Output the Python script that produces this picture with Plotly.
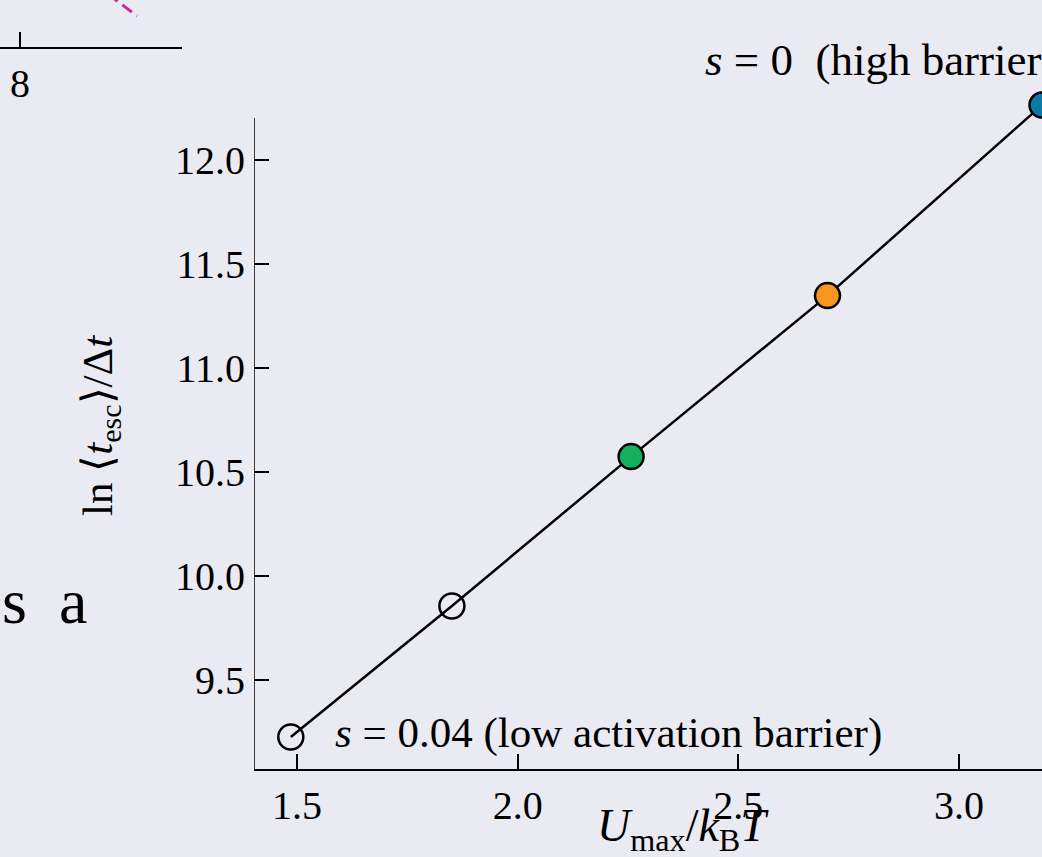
import plotly.graph_objects as go

# Escape-time data: mean escape time vs barrier height
u_max = [1.486, 1.851, 2.257, 2.702, 3.188]
ln_t_esc = [9.226, 9.856, 10.574, 11.348, 12.264]
marker_fill = ["rgba(0,0,0,0)", "rgba(0,0,0,0)", "#12B05F", "#F7951F", "#0B7AA5"]

x_ticks = [1.5, 2.0, 2.5, 3.0]
x_tick_text = ["1.5", "2.0", "2.5", "3.0"]
y_ticks = [9.5, 10.0, 10.5, 11.0, 11.5, 12.0]
y_tick_text = ["9.5", "10.0", "10.5", "11.0", "11.5", "12.0"]

# Neighbouring panel (only its lower edge is in view)
side_x = [8.88, 9.17]
side_y = [5.3, 3.1]
side_ticks = [8]

W, H = 1042, 857
BG = "#EAEAF2"
FONT = "Liberation Serif"
TICK_SIZE = 40
TEXT_SIZE = 43


def px(x):
    return x / W


def py(y):
    return 1 - y / H


fig = go.Figure()

fig.add_trace(go.Scatter(
    x=u_max, y=ln_t_esc, mode="lines+markers",
    line=dict(color="black", width=2.5),
    marker=dict(size=25, color=marker_fill, line=dict(color="black", width=2.5)),
    cliponaxis=False, showlegend=False, xaxis="x", yaxis="y",
))

fig.add_trace(go.Scatter(
    x=side_x, y=side_y, mode="lines",
    line=dict(color="#C22AA0", width=3, dash="12px,6px"),
    showlegend=False, xaxis="x2", yaxis="y2",
))

x_lo, x_hi = 1.4026, 3.188
y_lo, y_hi = 9.072, 12.3125
y_spine_top = 12.202

fig.update_layout(
    width=W, height=H,
    margin=dict(l=0, r=0, t=0, b=0),
    paper_bgcolor=BG, plot_bgcolor=BG,
    font=dict(family=FONT, size=TICK_SIZE, color="black"),
    xaxis=dict(
        domain=[px(254), 1.0], range=[x_lo, x_hi],
        showgrid=False, zeroline=False,
        showline=True, linecolor="black", linewidth=1.5,
        ticks="inside", ticklen=15, tickwidth=1.5, tickcolor="black",
        tickvals=x_ticks, ticktext=x_tick_text,
        tickfont=dict(family=FONT, size=TICK_SIZE),
        anchor="y", automargin=False,
    ),
    yaxis=dict(
        domain=[py(769), py(95)], range=[y_lo, y_hi],
        showgrid=False, zeroline=False, showline=False,
        ticks="inside", ticklen=15, tickwidth=1.5, tickcolor="black",
        tickvals=y_ticks, ticktext=y_tick_text,
        tickfont=dict(family=FONT, size=TICK_SIZE),
        ticklabelstandoff=8,
        anchor="x", automargin=False,
    ),
    xaxis2=dict(
        domain=[0, px(182)], range=[7.8, 9.62],
        showgrid=False, zeroline=False,
        showline=True, linecolor="black", linewidth=1.5,
        ticks="inside", ticklen=15, tickwidth=1.5, tickcolor="black",
        tickvals=side_ticks, ticktext=[str(t) for t in side_ticks],
        tickfont=dict(family=FONT, size=TICK_SIZE),
        anchor="y2", automargin=False,
    ),
    yaxis2=dict(
        domain=[py(47), 1.0], range=[0, 4.7],
        visible=False, anchor="x2",
    ),
)

# Left spine stops at the top of the data range
fig.add_shape(
    type="line", xref="x", yref="y",
    x0=x_lo, x1=x_lo, y0=y_lo, y1=y_spine_top,
    line=dict(color="black", width=1.5), layer="above",
)

annotations = [
    dict(text="<i>s</i> = 0&nbsp; (high barrier)", x=px(703), y=py(60),
         xanchor="left", yanchor="middle", font=dict(size=45)),
    dict(text="<i>s</i> = 0.04 (low activation barrier)", x=px(333), y=py(733),
         xanchor="left", yanchor="middle", font=dict(size=TEXT_SIZE)),
    dict(text="<i>U</i><sub>max</sub>/<i>k</i><sub>B</sub><i>T</i>", x=px(683), y=py(829),
         xanchor="center", yanchor="middle", font=dict(size=46)),
    dict(text="ln ⟨<i>t</i><sub>esc</sub>⟩/Δ<i>t</i>", x=px(101), y=py(426),
         xanchor="center", yanchor="middle", textangle=-90, font=dict(size=TEXT_SIZE)),
    dict(text="s&nbsp; a", x=px(89), y=py(601),
         xanchor="right", yanchor="middle", font=dict(size=64)),
]
for a in annotations:
    fig.add_annotation(xref="paper", yref="paper", showarrow=False, **a)

fig.write_html("out.html")
